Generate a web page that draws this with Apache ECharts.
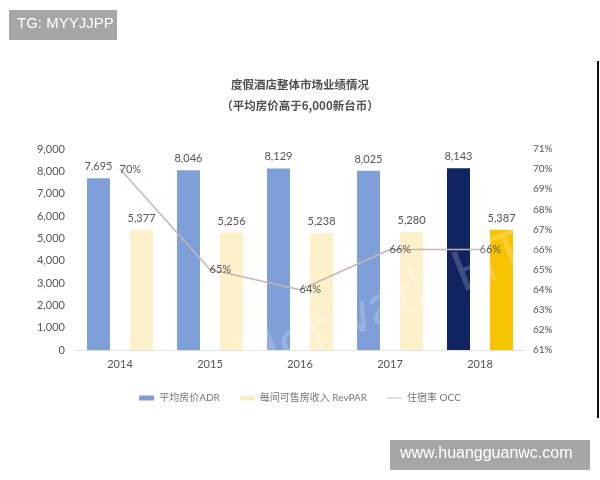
<!DOCTYPE html>
<html><head><meta charset="utf-8">
<script src="https://cdn.jsdelivr.net/npm/echarts@6/dist/echarts.min.js"></script>
<style>html,body{margin:0;padding:0;background:#fff}#c{width:600px;height:480px}</style>
</head><body><div id="c"></div>
<script>
var years = ['2014','2015','2016','2017','2018'];
var adr = [7695, 8046, 8129, 8025, 8143];
var revpar = [5377, 5256, 5238, 5280, 5387];
var occ = [70, 65, 64, 66, 66];
var leftTicks = [0, 9000, 1000];
var rightTicks = [61, 71, 1];

var FONT = 'Lato, "Noto Sans CJK SC", sans-serif';
var chart = echarts.init(document.getElementById('c'));
chart.setOption({
  animation: false,
  textStyle: {fontFamily: FONT},
  title: [{
    text: '度假酒店整体市场业绩情况',
    left: 'center', top: 74,
    textStyle: {fontSize: 11.5, fontWeight: 'bold', color: '#505050', fontFamily: '"Noto Sans CJK SC", sans-serif'}
  }, {
    text: '（平均房价高于6,000新台币）',
    left: 'center', top: 95,
    textStyle: {fontSize: 11.5, fontWeight: 'bold', color: '#505050', fontFamily: '"Noto Sans CJK SC", sans-serif'}
  }],
  legend: {
    bottom: 72, left: 'center',
    itemGap: 20, itemWidth: 15, itemHeight: 5,
    textStyle: {fontSize: 10, color: '#777', fontFamily: FONT},
    data: [
      {name: '平均房价ADR', icon: 'rect', itemStyle: {color: '#7f9bcf'}},
      {name: '每间可售房收入 RevPAR', icon: 'rect', itemStyle: {color: '#f6f0c6'}},
      {name: '住宿率 OCC', icon: 'path://M0,0 L15,0 L15,1 L0,1 Z', itemStyle: {color: '#bbb'}}
    ]
  },
  grid: {left: 75, right: 75, top: 149, bottom: 130},
  xAxis: {
    type: 'category', data: years,
    axisLine: {lineStyle: {color: '#e2e2e2'}},
    axisTick: {show: false},
    axisLabel: {color: '#555', fontSize: 11, margin: 9}
  },
  yAxis: [{
    type: 'value', min: leftTicks[0], max: leftTicks[1], interval: leftTicks[2],
    axisLine: {show: false}, axisTick: {show: false}, splitLine: {show: false},
    axisLabel: {color: '#555', fontSize: 11, margin: 10,
      formatter: function(v){ return v.toLocaleString('en-US'); }}
  }, {
    type: 'value', min: rightTicks[0], max: rightTicks[1], interval: rightTicks[2],
    axisLine: {show: false}, axisTick: {show: false}, splitLine: {show: false},
    axisLabel: {color: '#555', fontSize: 10, margin: 8, formatter: '{value}%'}
  }],
  series: [{
    name: '平均房价ADR', type: 'bar', barWidth: 23, barGap: '87%',
    data: adr.map(function(v, i){
      return {value: v, itemStyle: {color: i === 4 ? '#0f2461' : '#7f9fd8'}};
    }),
    label: {show: true, position: 'top', distance: 6, color: '#555', fontSize: 11,
      formatter: function(p){ return p.value.toLocaleString('en-US'); }}
  }, {
    name: '每间可售房收入 RevPAR', type: 'bar', barWidth: 23,
    data: revpar.map(function(v, i){
      return {value: v, itemStyle: {color: i === 4 ? '#f8c300' : '#fdf1cc'}};
    }),
    label: {show: true, position: 'top', distance: 6, color: '#555', fontSize: 11,
      formatter: function(p){ return p.value.toLocaleString('en-US'); }}
  }, {
    name: '住宿率 OCC', type: 'line', yAxisIndex: 1, data: occ,
    symbol: 'circle', symbolSize: 1, showSymbol: true, z: 5,
    lineStyle: {color: '#c9b5b0', width: 1.5},
    itemStyle: {color: '#c9b5b0'},
    label: {show: true, position: 'right', distance: -1, color: '#555', fontSize: 11,
      formatter: '{c}%'}
  }],
  graphic: [
    {type: 'rect', left: 9, top: 10, shape: {width: 108, height: 30}, style: {fill: '#a6a6a6'}},
    {type: 'text', left: 17, top: 16, style: {text: 'TG: MYYJJPP', fill: '#fff', fontSize: 15, fontFamily: '"Liberation Sans", Arial, sans-serif'}},
    {type: 'rect', left: 390, top: 440, shape: {width: 200, height: 30}, style: {fill: '#a6a6a6'}},
    {type: 'text', left: 400, top: 446, style: {text: 'www.huangguanwc.com', fill: '#fff', fontSize: 16, fontFamily: '"Liberation Sans", Arial, sans-serif'}},
    {type: 'rect', left: 597, top: 61, shape: {width: 2, height: 357}, style: {fill: '#111'}},
    {type: 'text', x: 230, y: 335, rotation: 0.38, z: 10,
      style: {text: 'Horwath HTL', fill: 'rgba(255,255,255,0.2)', fontSize: 56, fontFamily: FONT}}
  ]
});
</script></body></html>
